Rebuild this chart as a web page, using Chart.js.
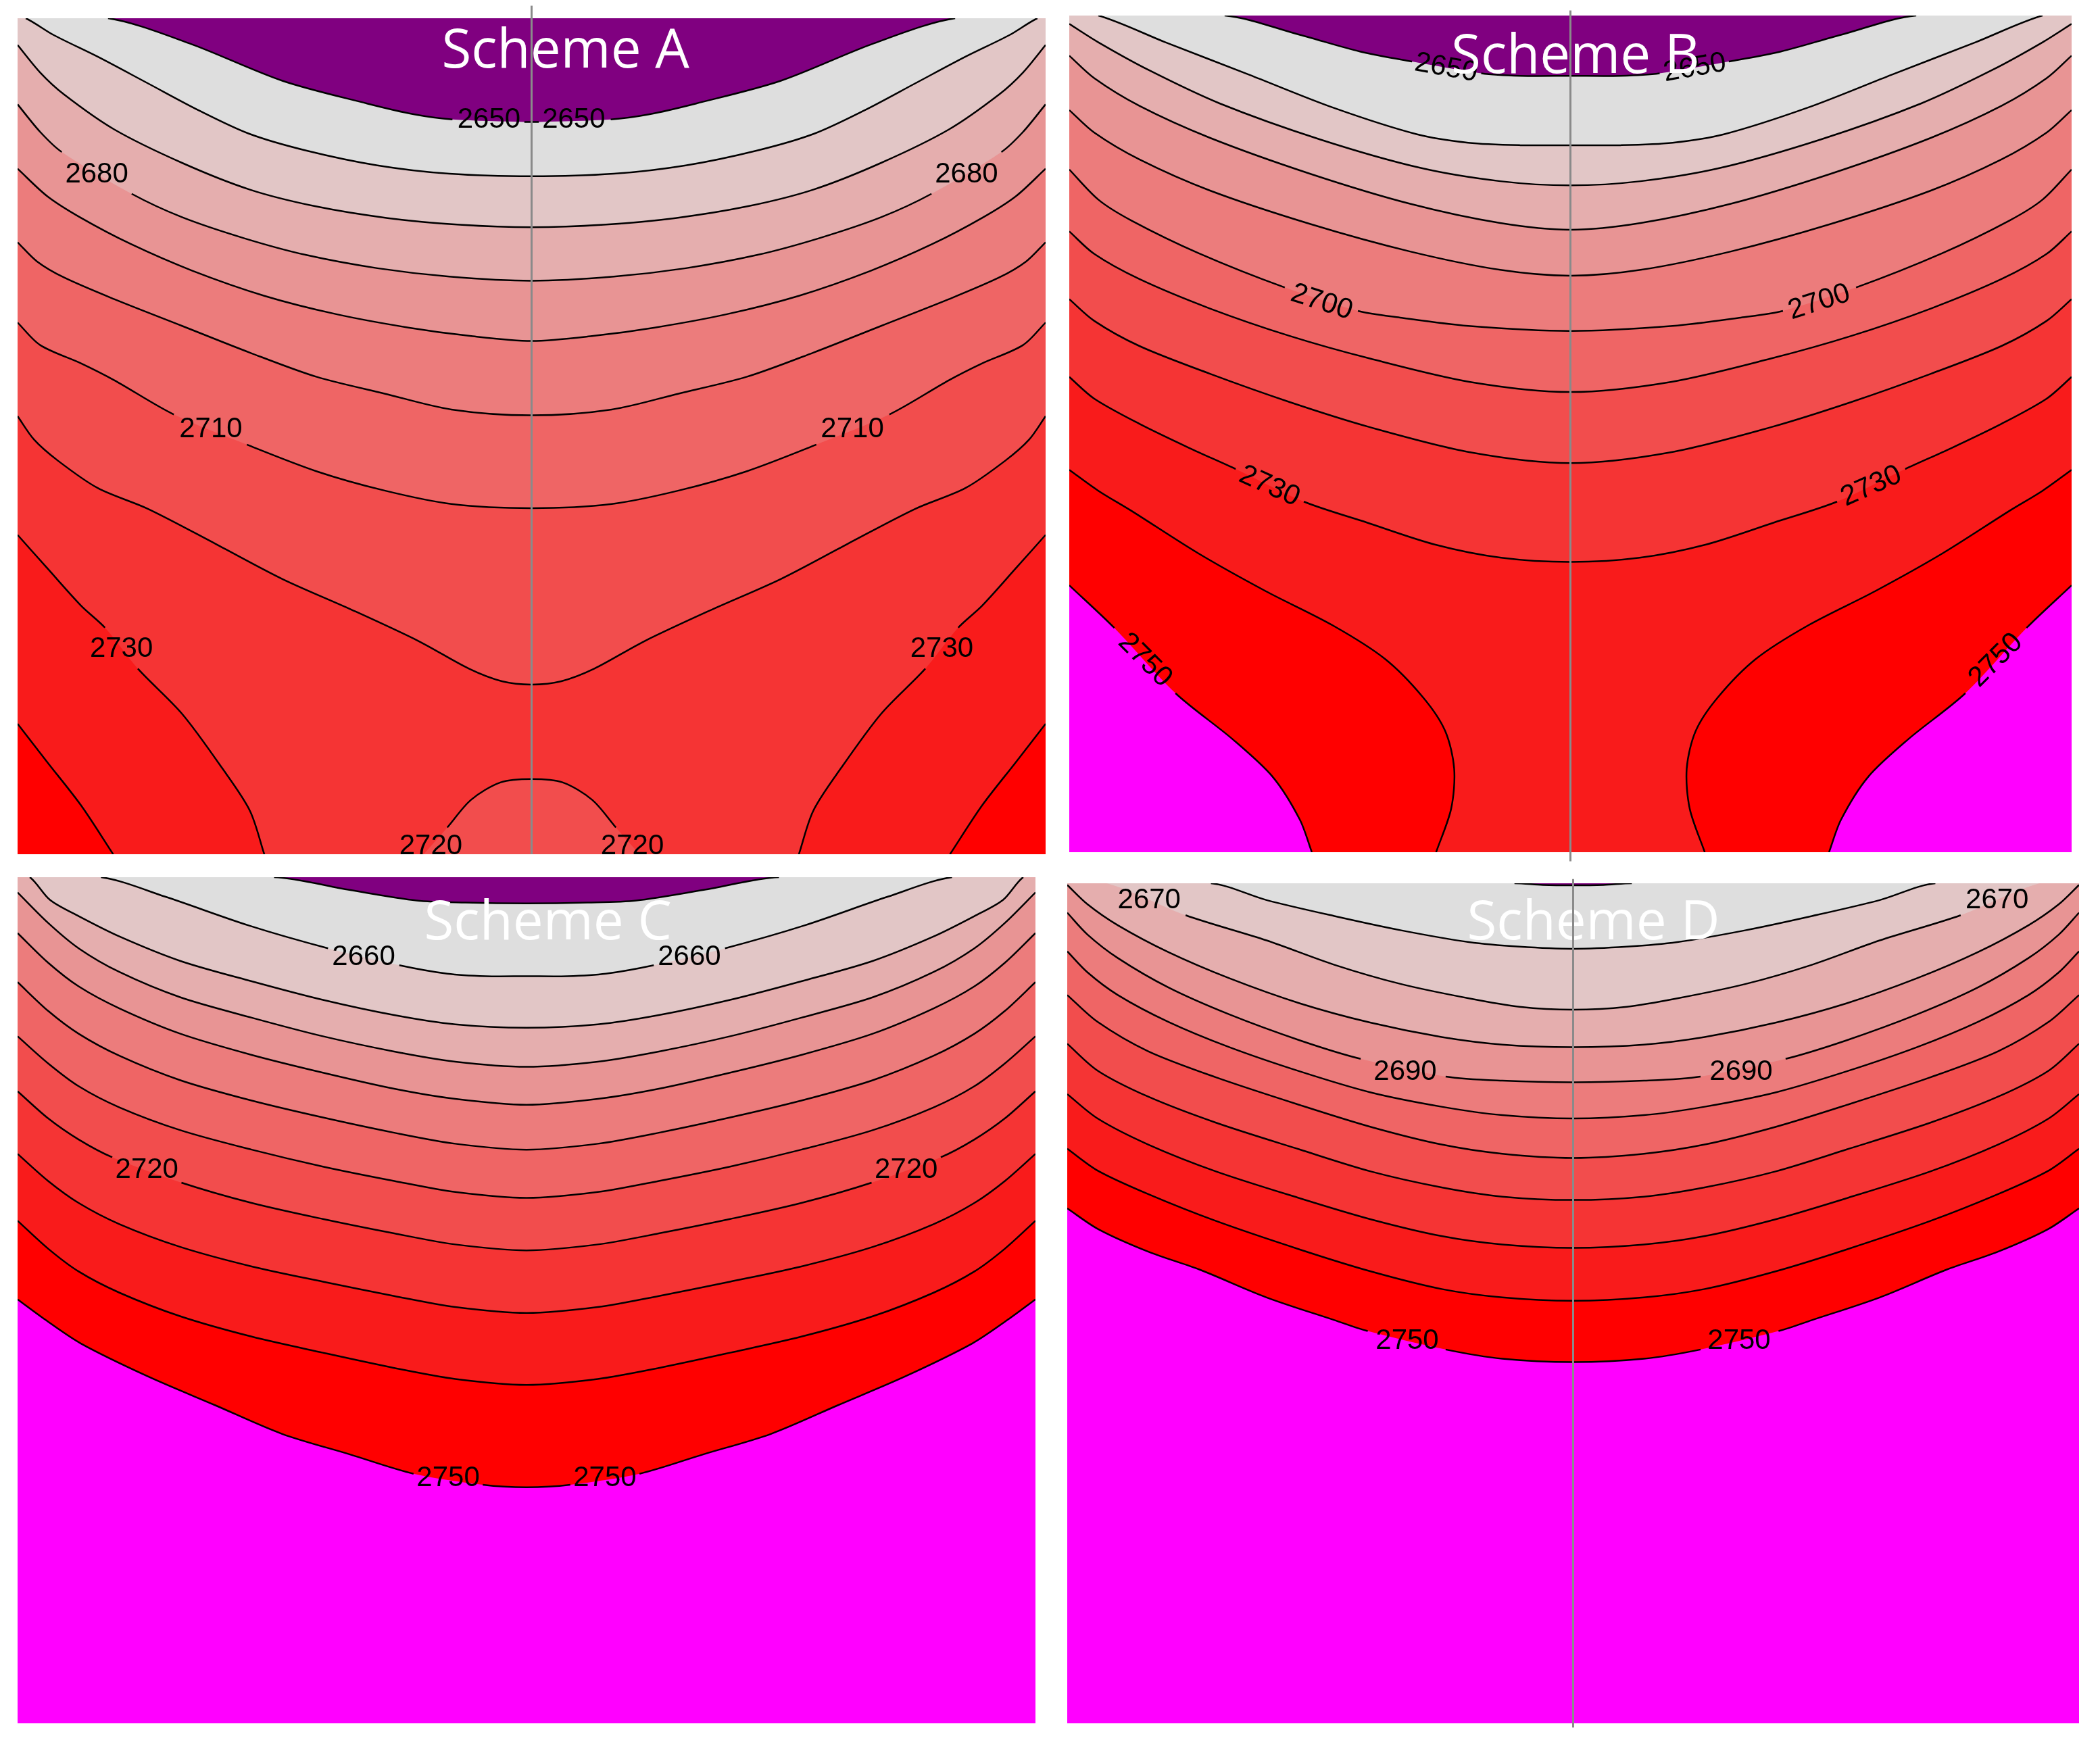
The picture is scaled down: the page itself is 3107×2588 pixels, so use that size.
<!doctype html>
<html>
<head>
  <meta charset="utf-8">
  <title>Scheme A-D contour maps</title>
  <script src="https://cdn.jsdelivr.net/npm/chart.js"></script>
  <style>
    body { margin: 0; background: #fff; }
    #wrap { position: relative; width: 3107px; height: 2588px; overflow: hidden; background: #fff; }
    #wrap canvas { position: absolute; }
  </style>
</head>
<body>
  <div id="wrap"></div>
  <script>
    // contour levels and the band colours between them (below 2650 ... above 2750)
    const levels = [2650, 2660, 2670, 2680, 2690, 2700, 2710, 2720, 2730, 2740, 2750];
    const bandColors = ['#800080', '#dedede', '#e2c6c6', '#e5aeae', '#e89494', '#ec7c7c',
                        '#ef6565', '#f24d4d', '#f53434', '#f91b1b', '#ff0000', '#ff00ff'];
    const titles = ['Scheme A', 'Scheme B', 'Scheme C', 'Scheme D'];

    // contour lines, x = 0..100 across the panel, y = 0..100 from top to bottom
    const schemeA = [
      [2650, [[8.8,0],[16.7,3.0],[25.8,7.5],[34,10.2],[38.6,11.5],[42.3,12.1],[49.3,12.4],[50.7,12.4],[57.7,12.1],[61.4,11.5],[66,10.2],[74.2,7.5],[83.3,3.0],[91.2,0]]],
      [2660, [[0.8,0],[3.5,2.0],[7.8,4.6],[12.7,7.8],[17.6,11.0],[22.5,13.8],[28,15.8],[35,17.6],[42,18.6],[50,18.9],[58,18.6],[65,17.6],[72,15.8],[77.5,13.8],[82.4,11.0],[87.3,7.8],[92.2,4.6],[96.5,2.0],[99.2,0]]],
      [2670, [[0,3.2],[2.2,6.5],[4.5,9.1],[9.4,13.3],[16,17.3],[22.6,20.5],[29,22.5],[36,23.9],[43,24.7],[50,25.0],[57,24.7],[64,23.9],[71,22.5],[77.4,20.5],[84,17.3],[90.6,13.3],[95.5,9.1],[97.8,6.5],[100,3.2]]],
      [2680, [[0,10.3],[2.2,13.6],[4.3,16.0],[11.1,21.0],[16,23.8],[22,26.3],[28,28.3],[35,29.9],[42,30.9],[50,31.4],[58,30.9],[65,29.9],[72,28.3],[78,26.3],[84,23.8],[88.9,21.0],[95.7,16.0],[97.8,13.6],[100,10.3]]],
      [2690, [[0,18.0],[2.9,21.3],[6.2,23.9],[11,27.0],[17,30.2],[24,33.2],[31,35.4],[38,37.0],[44,38.0],[50,38.6],[56,38.0],[62,37.0],[69,35.4],[76,33.2],[83,30.2],[89,27.0],[93.8,23.9],[97.1,21.3],[100,18.0]]],
      [2700, [[0,26.8],[1.9,29.1],[4.5,31.0],[9.4,33.6],[16,36.8],[22.6,40.0],[29.1,42.9],[35.7,44.9],[42.2,46.8],[50,47.5],[57.8,46.8],[64.3,44.9],[70.9,42.9],[77.4,40.0],[84,36.8],[90.6,33.6],[95.5,31.0],[98.1,29.1],[100,26.8]]],
      [2710, [[0,36.4],[2.2,39.1],[6.2,41.3],[9.4,43.3],[15.2,47.4],[22.3,51.0],[29.1,54.2],[35.7,56.5],[42.2,58.1],[50,58.6],[57.8,58.1],[64.3,56.5],[70.9,54.2],[77.7,51.0],[84.8,47.4],[90.6,43.3],[93.8,41.3],[97.8,39.1],[100,36.4]]],
      [2720, [[0,47.6],[1.6,50.4],[3.9,52.9],[7.8,56.2],[12.7,58.7],[19.3,62.9],[25.8,67.1],[32.4,70.7],[39,74.5],[43.9,77.8],[47.1,79.3],[50,79.7],[52.9,79.3],[56.1,77.8],[61,74.5],[67.6,70.7],[74.2,67.1],[80.7,62.9],[87.3,58.7],[92.2,56.2],[96.1,52.9],[98.4,50.4],[100,47.6]]],
      [2730, [[0,61.8],[2.9,65.8],[6.2,70.3],[8.5,72.9],[11.7,77.8],[16,83.2],[19.9,89.7],[22.6,94.8],[24,100]]],
      [2730, [[76,100],[77.4,94.8],[80.1,89.7],[84,83.2],[88.3,77.8],[91.5,72.9],[93.8,70.3],[97.1,65.8],[100,61.8]]],
      [2740, [[0,84.4],[2.9,89],[6.2,94.2],[9.3,100]]],
      [2740, [[90.7,100],[93.8,94.2],[97.1,89],[100,84.4]]],
      [2720, [[39.5,100],[41.8,96.8],[44.1,93.5],[47,91.4],[50,91.0],[53,91.4],[55.9,93.5],[58.2,96.8],[60.5,100]], 'inner']
    ];
    const schemeB = [
      [2650, [[15.5,0],[23,2.3],[29,4.3],[34.2,5.5],[41.1,6.9],[45,7.2],[50,7.2],[55,7.2],[58.9,6.9],[65.8,5.5],[71,4.3],[77,2.3],[84.5,0]]],
      [2660, [[2.9,0],[9.6,3.2],[18,7.1],[26.3,11],[34.7,14.2],[39.8,15.2],[45,15.5],[50,15.5],[55,15.5],[60.2,15.2],[65.3,14.2],[73.7,11],[82,7.1],[90.4,3.2],[97.1,0]]],
      [2670, [[0,1.0],[2.9,3.2],[7.9,6.5],[15,10.5],[25,14.8],[35,18.2],[43,19.8],[50,20.3],[57,19.8],[65,18.2],[75,14.8],[85,10.5],[92.1,6.5],[97.1,3.2],[100,1.0]]],
      [2680, [[0,4.8],[2.5,7.5],[7,10.8],[14,14.6],[24,18.9],[34,22.5],[43,24.8],[50,25.6],[57,24.8],[66,22.5],[76,18.9],[86,14.6],[93,10.8],[97.5,7.5],[100,4.8]]],
      [2690, [[0,11.3],[2.5,14.0],[7,17.2],[14,20.9],[24,24.9],[34,28.2],[43,30.4],[50,31.1],[57,30.4],[66,28.2],[76,24.9],[86,20.9],[93,17.2],[97.5,14.0],[100,11.3]]],
      [2700, [[0,18.4],[2.9,22.0],[6.2,24.5],[12.9,28.4],[21.5,32.5],[28.8,35.3],[33,36.1],[39.8,37.1],[50,37.7],[60.2,37.1],[67,36.1],[71.2,35.3],[78.5,32.5],[87.1,28.4],[93.8,24.5],[97.1,22.0],[100,18.4]]],
      [2710, [[0,25.8],[2.5,28.5],[7,31.5],[14,35],[22,38.3],[30,41],[40,43.8],[50,45],[60,43.8],[70,41],[78,38.3],[86,35],[93,31.5],[97.5,28.5],[100,25.8]]],
      [2720, [[0,33.9],[2.5,36.5],[7,39.5],[14,42.8],[22,46.2],[30,49.2],[40,52.2],[50,53.5],[60,52.2],[70,49.2],[78,46.2],[86,42.8],[93,39.5],[97.5,36.5],[100,33.9]]],
      [2730, [[0,43.2],[2.5,45.8],[7,48.8],[12,51.7],[16.6,54.2],[23.4,58.1],[29.7,60.6],[36.4,63.2],[43.1,64.8],[50,65.3],[56.9,64.8],[63.6,63.2],[70.3,60.6],[76.6,58.1],[83.4,54.2],[88,51.7],[93,48.8],[97.5,45.8],[100,43.2]]],
      [2740, [[0,54.3],[2.9,56.8],[6.2,59.2],[12.9,64.3],[19.6,68.8],[26.3,72.9],[31.5,76.9],[35.3,81.5],[37.5,85.5],[38.4,90],[38.1,94.8],[36.6,100]]],
      [2740, [[63.4,100],[61.9,94.8],[61.6,90],[62.5,85.5],[64.7,81.5],[68.5,76.9],[73.7,72.9],[80.4,68.8],[87.1,64.3],[93.8,59.2],[97.1,56.8],[100,54.3]]],
      [2750, [[0,68.1],[4.5,73.2],[10.6,81.0],[16.3,86.5],[20.3,91],[23,96.1],[24.2,100]]],
      [2750, [[75.8,100],[77,96.1],[79.7,91],[83.7,86.5],[89.4,81.0],[95.5,73.2],[100,68.1]]]
    ];
    const schemeC = [
      [2650, [[25.2,0],[32.6,1.5],[39.2,2.75],[44,3.0],[50,3.1],[56,3.0],[60.8,2.75],[67.4,1.5],[74.8,0]]],
      [2660, [[8.2,0],[14.5,2.3],[22.7,5.7],[30.5,8.4],[37.5,10.4],[42.2,11.4],[46,11.7],[50,11.7],[54,11.7],[57.8,11.4],[62.5,10.4],[69.5,8.4],[77.3,5.7],[85.5,2.3],[91.8,0]]],
      [2670, [[1.2,0],[3.2,2.7],[6,4.6],[10,7.0],[16,9.9],[23,12.3],[30,14.5],[37,16.3],[43,17.4],[50,17.8],[57,17.4],[63,16.3],[70,14.5],[77,12.3],[84,9.9],[90,7.0],[94,4.6],[96.8,2.7],[98.8,0]]],
      [2680, [[0,1.8],[3,5.4],[6,8.4],[10,11.2],[16,14.2],[23,16.6],[30,18.8],[37,20.6],[43,21.8],[50,22.4],[57,21.8],[63,20.6],[70,18.8],[77,16.6],[84,14.2],[90,11.2],[94,8.4],[97,5.4],[100,1.8]]],
      [2690, [[0,6.6],[3,10.1],[6,12.9],[10,15.5],[16,18.5],[23,21.0],[30,23.1],[37,25.0],[43,26.2],[50,26.9],[57,26.2],[63,25.0],[70,23.1],[77,21.0],[84,18.5],[90,15.5],[94,12.9],[97,10.1],[100,6.6]]],
      [2700, [[0,12.4],[3,15.8],[6,18.5],[10,21.1],[16,24.0],[23,26.4],[30,28.4],[37,30.2],[43,31.5],[50,32.2],[57,31.5],[63,30.2],[70,28.4],[77,26.4],[84,24.0],[90,21.1],[94,18.5],[97,15.8],[100,12.4]]],
      [2710, [[0,18.8],[3,22.0],[6,24.7],[10,27.2],[16,29.9],[23,32.2],[30,34.2],[37,35.9],[43,37.2],[50,37.9],[57,37.2],[63,35.9],[70,34.2],[77,32.2],[84,29.9],[90,27.2],[94,24.7],[97,22.0],[100,18.8]]],
      [2720, [[0,25.3],[3,28.5],[6,31.0],[9.3,33.1],[16.1,36.1],[23,38.5],[30,40.4],[37,42.1],[43,43.4],[50,44.1],[57,43.4],[63,42.1],[70,40.4],[77,38.5],[83.9,36.1],[90.7,33.1],[94,31.0],[97,28.5],[100,25.3]]],
      [2730, [[0,32.7],[3,35.9],[6,38.5],[10,41.0],[16,43.7],[23,46.0],[30,47.8],[37,49.5],[43,50.8],[50,51.5],[57,50.8],[63,49.5],[70,47.8],[77,46.0],[84,43.7],[90,41.0],[94,38.5],[97,35.9],[100,32.7]]],
      [2740, [[0,40.6],[3,43.9],[6,46.6],[10,49.1],[16,51.9],[23,54.3],[30,56.2],[37,58.0],[43,59.3],[50,60.0],[57,59.3],[63,58.0],[70,56.2],[77,54.3],[84,51.9],[90,49.1],[94,46.6],[97,43.9],[100,40.6]]],
      [2750, [[0,49.9],[2.6,52.2],[6.2,55.1],[12.8,59],[19.4,62.4],[26,65.8],[32.6,68.2],[38.9,70.5],[45.7,71.8],[50,72.1],[54.3,71.8],[61.1,70.5],[67.4,68.2],[74,65.8],[80.6,62.4],[87.2,59],[93.8,55.1],[97.4,52.2],[100,49.9]]]
    ];
    const schemeD = [
      [2650, [[44.2,0],[47,0.2],[50,0.25],[53,0.2],[55.8,0]]],
      [2660, [[14.2,0],[19.7,2.0],[26.4,3.9],[33,5.6],[39.7,7.0],[44.7,7.55],[50,7.8],[55.3,7.55],[60.3,7.0],[67,5.6],[73.6,3.9],[80.3,2.0],[85.8,0]]],
      [2670, [[3.9,0],[11.7,3.8],[19.7,6.8],[26.4,9.7],[33,12],[39.7,13.7],[44.7,14.7],[50,15.05],[55.3,14.7],[60.3,13.7],[67,12],[73.6,9.7],[80.3,6.8],[88.3,3.8],[96.1,0]]],
      [2680, [[0,0.2],[2,2.5],[5,5.0],[10,8.2],[16,11.3],[23,14.3],[30,16.6],[37,18.3],[43,19.2],[50,19.5],[57,19.2],[63,18.3],[70,16.6],[77,14.3],[84,11.3],[90,8.2],[95,5.0],[98,2.5],[100,0.2]]],
      [2690, [[0,3.5],[2,6.1],[5,8.9],[10,12.4],[16,15.6],[23,18.7],[29,20.9],[37.4,23.0],[43,23.5],[50,23.7],[57,23.5],[62.6,23.0],[71,20.9],[77,18.7],[84,15.6],[90,12.4],[95,8.9],[98,6.1],[100,3.5]]],
      [2700, [[0,8.1],[2,10.6],[5,13.3],[10,16.5],[16,19.5],[23,22.4],[30,24.9],[37,26.6],[43,27.6],[50,28.0],[57,27.6],[63,26.6],[70,24.9],[77,22.4],[84,19.5],[90,16.5],[95,13.3],[98,10.6],[100,8.1]]],
      [2710, [[0,13.3],[3,16.5],[8,20.0],[14.7,23.1],[23,26.4],[30,29.0],[37,31.1],[43,32.2],[50,32.7],[57,32.2],[63,31.1],[70,29.0],[77,26.4],[85.3,23.1],[92,20.0],[97,16.5],[100,13.3]]],
      [2720, [[0,19.1],[3,22.3],[8,25.4],[14.7,28.5],[23,31.7],[30,34.3],[37,36.2],[43,37.3],[50,37.7],[57,37.3],[63,36.2],[70,34.3],[77,31.7],[85.3,28.5],[92,25.4],[97,22.3],[100,19.1]]],
      [2730, [[0,25.1],[3,28.0],[8,31.1],[14.7,34.3],[23,37.5],[30,40.0],[37,42.0],[43,43.0],[50,43.4],[57,43.0],[63,42.0],[70,40.0],[77,37.5],[85.3,34.3],[92,31.1],[97,28.0],[100,25.1]]],
      [2740, [[0,31.6],[3,34.2],[8,37.0],[14.7,40.2],[23,43.6],[30,46.2],[37,48.3],[43,49.3],[50,49.7],[57,49.3],[63,48.3],[70,46.2],[77,43.6],[85.3,40.2],[92,37.0],[97,34.2],[100,31.6]]],
      [2750, [[0,38.7],[3.1,41.2],[8.1,43.9],[13.1,46.0],[19.7,49.3],[26.4,52.0],[29.7,53.3],[37.4,55.5],[43,56.6],[50,57.0],[57,56.6],[62.6,55.5],[70.3,53.3],[73.6,52.0],[80.3,49.3],[86.9,46.0],[91.9,43.9],[96.9,41.2],[100,38.7]]]
    ];

    // contour labels: text, x, y, rotation in degrees
    const labelsA = [['2650',45.85,12.1,0],['2650',54.1,12.1,0],['2680',7.7,18.6,0],['2680',92.3,18.6,0],
                     ['2710',18.8,49.1,0],['2710',81.2,49.1,0],['2730',10.1,75.4,0],['2730',89.9,75.4,0],
                     ['2720',40.2,99.0,0],['2720',59.8,99.0,0]];
    const labelsB = [['2650',37.6,6.2,10],['2650',62.4,6.2,-10],['2700',25.2,34.2,18],['2700',74.8,34.2,-18],
                     ['2730',20.0,56.2,24],['2730',80.0,56.2,-24],['2750',7.6,77.0,45],['2750',92.4,77.0,-45]];
    const labelsC = [['2660',34.0,9.4,0],['2660',66.0,9.4,0],['2720',12.7,34.5,0],['2720',87.3,34.5,0],
                     ['2750',42.3,71.0,0],['2750',57.7,71.0,0]];
    const labelsD = [['2670',8.1,2.0,0],['2670',91.9,2.0,0],['2690',33.4,22.4,0],['2690',66.6,22.4,0],
                     ['2750',33.6,54.4,0],['2750',66.4,54.4,0]];

    // page layout: panel box [left, top, width, height] in px, title anchor and centre-line extent in panel units
    const panels = [
      { lines: schemeA, labels: labelsA, title: titles[0], box: [26, 27, 1521, 1237], titleAt: [53.3, 5.9], axis: [-1.5, 100] },
      { lines: schemeB, labels: labelsB, title: titles[1], box: [1582, 23, 1483, 1238], titleAt: [50.5, 6.9], axis: [-0.6, 101.1] },
      { lines: schemeC, labels: labelsC, title: titles[2], box: [26, 1298, 1506, 1252], titleAt: [52.1, 7.35], axis: null },
      { lines: schemeD, labels: labelsD, title: titles[3], box: [1579, 1307, 1497, 1243], titleAt: [52.0, 6.7], axis: [-0.5, 100.5] }
    ];

    const M = 40;
    const TENSION = 0.3;
    const HIDDEN = 'rgba(0,0,0,0)';
    const LABEL_FONT = '42px "Liberation Sans", Arial, sans-serif';
    const TITLE_FONT = '80px "Open Sans", sans-serif';

    function bandColor(level, inner) {
      const i = levels.indexOf(level);
      return bandColors[inner ? i : i + 1];
    }

    // close the area under a line that starts or ends on the top / bottom edge
    function withEdges(pts) {
      const first = pts[0], last = pts[pts.length - 1];
      const pre = [], post = [];
      if (first[1] === 0 && first[0] > 0) pre.push([0, 0]);
      if (last[1] === 0 && last[0] < 100) post.push([100, 0]);
      return { data: pre.concat(pts, post).map(([x, y]) => ({ x, y })), pre: pre.length, post: post.length };
    }

    function monotoneX(pts) {
      const up = pts.every((q, i) => i === 0 || q[0] >= pts[i - 1][0]);
      const down = pts.every((q, i) => i === 0 || q[0] <= pts[i - 1][0]);
      return up || down;
    }

    function inLabel(c, labels) {
      const sx = c.chart.scales.x, sy = c.chart.scales.y;
      const mx = (c.p0.x + c.p1.x) / 2, my = (c.p0.y + c.p1.y) / 2;
      return labels.some(([t, lx, ly, r]) => {
        const a = r * Math.PI / 180;
        const dx = mx - sx.getPixelForValue(lx), dy = my - sy.getPixelForValue(ly);
        return Math.abs(dx * Math.cos(a) + dy * Math.sin(a)) < 52 &&
               Math.abs(dy * Math.cos(a) - dx * Math.sin(a)) < 22;
      });
    }

    function drawText(chart, p) {
      const ctx = chart.ctx, a = chart.chartArea;
      const sx = chart.scales.x, sy = chart.scales.y;
      ctx.save();
      ctx.beginPath();
      ctx.rect(a.left, a.top, a.right - a.left, a.bottom - a.top);
      ctx.clip();
      ctx.font = LABEL_FONT;
      ctx.fillStyle = '#000';
      ctx.textAlign = 'center';
      ctx.textBaseline = 'middle';
      p.labels.forEach(([t, x, y, r]) => {
        ctx.save();
        ctx.translate(sx.getPixelForValue(x), sy.getPixelForValue(y));
        ctx.rotate(r * Math.PI / 180);
        ctx.fillText(t, 0, 1);
        ctx.restore();
      });
      ctx.font = TITLE_FONT;
      ctx.fillStyle = '#fff';
      ctx.textBaseline = 'alphabetic';
      ctx.fillText(p.title, sx.getPixelForValue(p.titleAt[0]), sy.getPixelForValue(p.titleAt[1]));
      ctx.restore();
    }

    function buildPanel(p) {
      const [left, top, w, h] = p.box;
      const canvas = document.createElement('canvas');
      canvas.width = w + 2 * M;
      canvas.height = h + 2 * M;
      canvas.style.left = (left - M) + 'px';
      canvas.style.top = (top - M) + 'px';
      canvas.style.width = canvas.width + 'px';
      canvas.style.height = canvas.height + 'px';
      document.getElementById('wrap').appendChild(canvas);

      // paint bands from the lowest level up, then draw the contour lines on top
      const sorted = p.lines.slice().sort((a, b) => (a[0] + (a[2] ? 0.5 : 0)) - (b[0] + (b[2] ? 0.5 : 0)));
      const datasets = [];
      sorted.forEach(([level, pts, inner], k) => {
        let e, fillDs;
        if (monotoneX(pts)) {
          // fill from the line down to the bottom edge
          e = withEdges(pts);
          fillDs = { fill: { value: 100 } };
        } else {
          // line bends back on itself: fill sideways to the panel edge it starts from
          e = { data: pts.map(([x, y]) => ({ x, y })), pre: 0, post: 0 };
          fillDs = { fill: { value: pts[0][0] === 0 ? 0 : 100 }, indexAxis: 'y' };
        }
        const n = e.data.length;
        datasets.push(Object.assign({
          data: e.data, backgroundColor: bandColor(level, inner === 'inner'),
          borderWidth: 0, borderColor: HIDDEN, tension: TENSION, order: 1000 - k
        }, fillDs));
        datasets.push({
          data: e.data, fill: false, borderColor: '#000', borderWidth: 2.5, tension: TENSION, order: 2,
          segment: {
            borderColor: c => (c.p0DataIndex < e.pre || c.p1DataIndex > n - 1 - e.post || inLabel(c, p.labels)) ? HIDDEN : undefined
          }
        });
      });
      if (p.axis) {
        datasets.push({
          data: [{ x: 50, y: p.axis[0] }, { x: 50, y: p.axis[1] }], fill: false,
          borderColor: '#8a8a8a', borderWidth: 3, tension: 0, clip: false, order: 0, isAxis: true
        });
      }

      const art = {
        id: 'panelArt',
        beforeDatasetsDraw(chart) {
          const a = chart.chartArea;
          chart.ctx.save();
          chart.ctx.fillStyle = bandColors[0];
          chart.ctx.fillRect(a.left, a.top, a.right - a.left, a.bottom - a.top);
          chart.ctx.restore();
        },
        beforeDatasetDraw(chart, args) {
          if (chart.data.datasets[args.index].isAxis) drawText(chart, p);
        },
        afterDatasetsDraw(chart) {
          if (!p.axis) drawText(chart, p);
        }
      };

      new Chart(canvas, {
        type: 'line',
        data: { datasets: datasets },
        options: {
          responsive: false,
          devicePixelRatio: 1,
          animation: false,
          events: [],
          layout: { padding: M },
          elements: { point: { radius: 0, hoverRadius: 0 } },
          plugins: { legend: { display: false }, tooltip: { enabled: false } },
          scales: {
            x: { type: 'linear', min: 0, max: 100, display: false },
            y: { type: 'linear', min: 0, max: 100, reverse: true, display: false }
          }
        },
        plugins: [art]
      });
    }

    panels.forEach(buildPanel);
  </script>
</body>
</html>
